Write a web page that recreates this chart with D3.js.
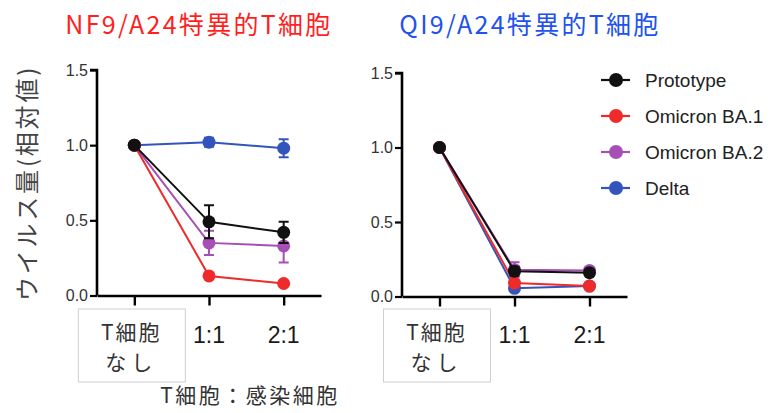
<!DOCTYPE html>
<html><head><meta charset="utf-8">
<script src="https://cdn.jsdelivr.net/npm/d3@7"></script>
<style>
body{margin:0;background:#fff;}
svg{display:block;}
.jp{font-family:"Noto Sans CJK JP","Noto Sans",sans-serif;}
.lat{font-family:"Liberation Sans",Arial,sans-serif;}
</style></head>
<body>
<svg id="c" width="775" height="413"></svg>
<script>
// ---- data ----
const categories = ["T細胞なし", "1:1", "2:1"];
const seriesNames = ["Prototype", "Omicron BA.1", "Omicron BA.2", "Delta"];
const seriesColors = ["#111111", "#ee2a2a", "#a64fb4", "#3355bb"];
const yTicks = [0, 0.5, 1.0, 1.5];

// NF9/A24 panel
const nf9Prototype = [1.0, 0.49, 0.42];
const nf9PrototypeErr = [0, 0.11, 0.07];
const nf9BA1 = [1.0, 0.13, 0.08];
const nf9BA1Err = [0, 0.02, 0.01];
const nf9BA2 = [1.0, 0.35, 0.33];
const nf9BA2Err = [0, 0.08, 0.11];
const nf9Delta = [1.0, 1.02, 0.98];
const nf9DeltaErr = [0, 0.03, 0.06];

// QI9/A24 panel
const qi9Prototype = [1.0, 0.17, 0.16];
const qi9PrototypeErr = [0, 0.03, 0.02];
const qi9BA1 = [1.0, 0.09, 0.07];
const qi9BA1Err = [0, 0.02, 0.01];
const qi9BA2 = [1.0, 0.18, 0.175];
const qi9BA2Err = [0, 0.05, 0.02];
const qi9Delta = [1.0, 0.055, 0.07];
const qi9DeltaErr = [0, 0.01, 0.01];

const titles = ["NF9/A24特異的T細胞", "QI9/A24特異的T細胞"];
const titleColors = ["#ff1f1f", "#2152ee"];
const yLabel = "ウイルス量(相対値)";
const xLabel = "T細胞：感染細胞";

const panels = [
  {title: titles[0], color: titleColors[0], titleX: 199, xr: [97, 321], yr: [295.5, 70],
   series: [[nf9Prototype, nf9PrototypeErr], [nf9BA1, nf9BA1Err], [nf9BA2, nf9BA2Err], [nf9Delta, nf9DeltaErr]]},
  {title: titles[1], color: titleColors[1], titleX: 530, xr: [402, 627], yr: [296.5, 73],
   series: [[qi9Prototype, qi9PrototypeErr], [qi9BA1, qi9BA1Err], [qi9BA2, qi9BA2Err], [qi9Delta, qi9DeltaErr]]}
];
const drawOrder = [3, 2, 1, 0];

const svg = d3.select("#c");

panels.forEach((p, pi) => {
  const x = d3.scalePoint().domain(categories).range(p.xr).padding(0.5);
  const y = d3.scaleLinear().domain([0, 1.5]).range(p.yr);
  const g = svg.append("g");

  // title
  svg.append("text").attr("class", "jp").attr("x", p.titleX).attr("y", 34)
    .attr("text-anchor", "middle").attr("font-size", 25).attr("letter-spacing", 2.3)
    .attr("fill", p.color).text(p.title);

  // y axis
  const ya = g.append("g").attr("transform", `translate(${p.xr[0]},0)`)
    .call(d3.axisLeft(y).tickValues(yTicks).tickFormat(d3.format(".1f")).tickSize(7).tickPadding(2));
  ya.select(".domain").attr("stroke", "#000").attr("stroke-width", 2.6).attr("d", `M-7,${y(1.5)}H0V${y(0)}`);
  ya.selectAll(".tick line").attr("stroke", "#000").attr("stroke-width", 2.2);
  ya.selectAll(".tick text").attr("class", "lat").attr("font-size", 16).attr("fill", "#333");

  // x axis
  const xa = g.append("g").attr("transform", `translate(0,${y(0)})`)
    .call(d3.axisBottom(x).tickSize(10).tickSizeOuter(0).tickFormat(""));
  xa.select(".domain").attr("stroke", "#000").attr("stroke-width", 2.6);
  xa.selectAll(".tick line").attr("stroke", "#000").attr("stroke-width", 2.4);

  // x category labels
  const cx0 = x(categories[0]);
  g.append("rect").attr("x", cx0 - 56).attr("y", 309).attr("width", 107).attr("height", 73)
    .attr("fill", "none").attr("stroke", "#cfcfcf").attr("stroke-width", 1);
  g.append("text").attr("class", "jp").attr("x", cx0 - 3).attr("y", 340).attr("text-anchor", "middle")
    .attr("font-size", 21).attr("letter-spacing", 2).attr("fill", "#333").text(categories[0].slice(0, 3));
  g.append("text").attr("class", "jp").attr("x", cx0 - 3).attr("y", 370).attr("text-anchor", "middle")
    .attr("font-size", 21).attr("letter-spacing", 5).attr("fill", "#333").text(categories[0].slice(3));
  categories.slice(1).forEach(c => {
    g.append("text").attr("class", "lat").attr("x", x(c)).attr("y", 343).attr("text-anchor", "middle")
      .attr("font-size", 23).attr("fill", "#1a1a1a").text(c);
  });

  // series
  drawOrder.forEach(si => {
    const [vals, errs] = p.series[si];
    const col = seriesColors[si];
    const pts = categories.map((c, i) => ({x: x(c), v: vals[i], e: errs[i]}));
    const sg = g.append("g");
    sg.append("path").attr("fill", "none").attr("stroke", col).attr("stroke-width", 2)
      .attr("d", d3.line().x(d => d.x).y(d => y(d.v))(pts));
    pts.filter(d => d.e > 0).forEach(d => {
      const y1 = y(d.v + d.e), y2 = y(d.v - d.e);
      sg.append("path").attr("fill", "none").attr("stroke", col).attr("stroke-width", 2)
        .attr("d", `M${d.x},${y1}V${y2}M${d.x - 5},${y1}H${d.x + 5}M${d.x - 5},${y2}H${d.x + 5}`);
    });
    sg.selectAll("circle").data(pts).join("circle")
      .attr("cx", d => d.x).attr("cy", d => y(d.v)).attr("r", 6.5).attr("fill", col);
  });
});

// y label
svg.append("text").attr("class", "jp").attr("transform", "translate(36,183) rotate(-90)")
  .attr("text-anchor", "middle").attr("font-size", 24).attr("letter-spacing", 2.8)
  .attr("fill", "#444").text(yLabel);

// x label
svg.append("text").attr("class", "jp").attr("x", 250).attr("y", 403).attr("text-anchor", "middle")
  .attr("font-size", 21).attr("letter-spacing", 2.5).attr("fill", "#333").text(xLabel);

// legend
const leg = svg.append("g");
seriesNames.forEach((n, i) => {
  const yy = 80 + i * 36;
  leg.append("line").attr("x1", 601).attr("x2", 630).attr("y1", yy).attr("y2", yy)
    .attr("stroke", seriesColors[i]).attr("stroke-width", 2.2);
  leg.append("circle").attr("cx", 616).attr("cy", yy).attr("r", 7).attr("fill", seriesColors[i]);
  leg.append("text").attr("class", "lat").attr("x", 645).attr("y", yy + 6.5)
    .attr("font-size", 19).attr("fill", "#222").text(n);
});
</script>
</body></html>
